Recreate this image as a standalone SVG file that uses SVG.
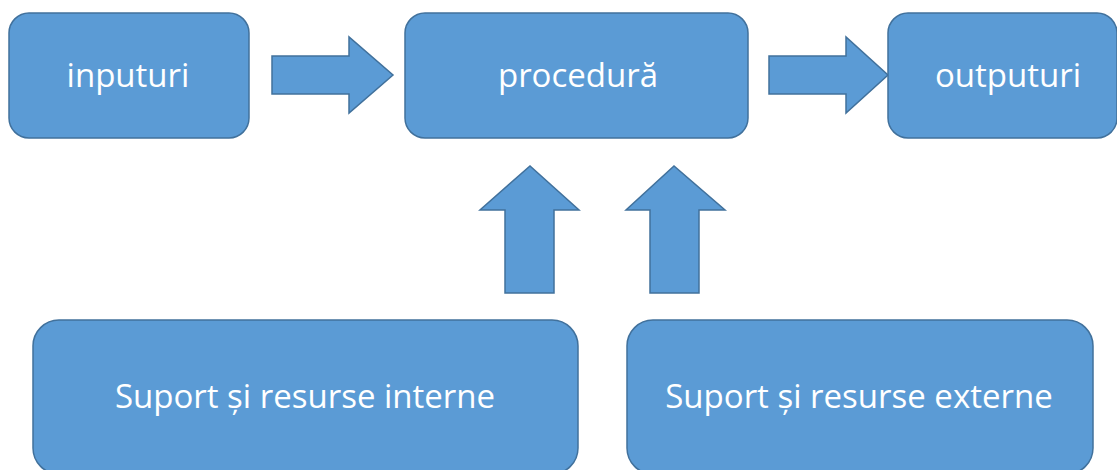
<svg xmlns="http://www.w3.org/2000/svg" width="1117" height="470" viewBox="0 0 1117 470">
<style>
.box{fill:#5B9BD5;stroke:#41719C;stroke-width:1.5}
.arr{fill:#5B9BD5;stroke:#41719C;stroke-width:1.5;stroke-linejoin:miter}
.lbl{fill:#FFFFFF;font-family:"Open Sans","Liberation Sans",sans-serif;font-size:33px;text-anchor:middle}
</style>
<rect width="1117" height="470" fill="#FFFFFF"/>
<g id="connectors">
<polygon class="arr" points="272,56 349,56 349,37 393,75 349,113 349,94 272,94"/>
<polygon class="arr" points="769,56 846,56 846,37 888,75 846,113 846,94 769,94"/>
<polygon class="arr" points="505,293 505,210 480,210 530,166 579,210 554,210 554,293"/>
<polygon class="arr" points="650,293 650,210 626,210 674,166 725,210 699,210 699,293"/>
</g>
<g id="inputuri">
<rect class="box" x="9" y="13" width="240" height="125" rx="20"/>
<text class="lbl" x="128" y="87">inputuri</text>
</g>
<g id="procedura">
<rect class="box" x="405" y="13" width="343" height="125" rx="20"/>
<text class="lbl" x="578" y="87">procedură</text>
</g>
<g id="outputuri">
<rect class="box" x="888" y="13" width="229" height="125" rx="20"/>
<text class="lbl" x="1008" y="87">outputuri</text>
</g>
<g id="suport-interne">
<rect class="box" x="33" y="320" width="545" height="154" rx="26"/>
<text class="lbl" x="305" y="408">Suport și resurse interne</text>
</g>
<g id="suport-externe">
<rect class="box" x="627" y="320" width="466" height="154" rx="26"/>
<text class="lbl" x="859" y="408">Suport și resurse externe</text>
</g>
</svg>
